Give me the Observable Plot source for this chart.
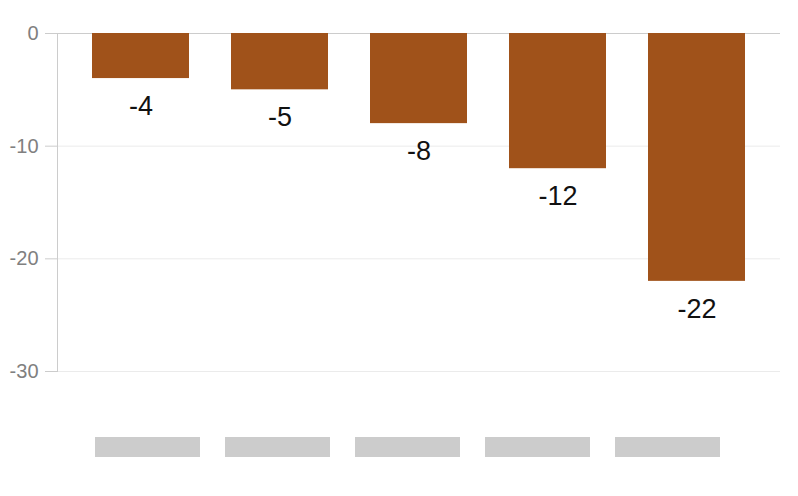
<!DOCTYPE html>
<html>
<head>
<meta charset="utf-8">
<script src="https://cdn.jsdelivr.net/npm/d3@7"></script>
<script src="https://cdn.jsdelivr.net/npm/@observablehq/plot@0.6"></script>
<style>
  html, body { margin: 0; padding: 0; background: #fff; }
  #chart svg { display: block; }
</style>
</head>
<body>
<div id="chart"></div>
<script>
// Categories (original labels are redacted in the reference)
const categories = ["c1", "c2", "c3", "c4", "c5"];
const values = [-4, -5, -8, -12, -22];
const yTicks = [0, -10, -20, -30];

const data = categories.map((c, i) => ({category: c, value: values[i]}));

const font = "'Liberation Sans', Arial, Helvetica, sans-serif";

const main = Plot.plot({
  width: 798,
  height: 400,
  marginTop: 33,
  marginBottom: 29,
  marginLeft: 57,
  marginRight: 18,
  style: {fontFamily: font, background: "#fff"},
  x: {domain: categories, paddingInner: 0.305, paddingOuter: 0.244, axis: null},
  y: {domain: [-30, 0], label: null},
  marks: [
    Plot.gridY(yTicks.filter(d => d !== 0), {stroke: "#ebebeb", strokeOpacity: 1}),
    Plot.ruleY([0], {stroke: "#cccccc"}),
    Plot.frame({anchor: "left", stroke: "#cccccc"}),
    Plot.axisY(yTicks, {
      tickSize: 12,
      tickPadding: 7,
      stroke: "#cccccc",
      fill: "#808080",
      fontSize: 20,
      tickFormat: d => String(d),
      label: null
    }),
    Plot.barY(data, {x: "category", y: "value", fill: "#a0521a"}),
    Plot.text(data, {
      x: "category",
      y: "value",
      text: d => String(d.value),
      dy: 28,
      fontSize: 27,
      fill: "#111",
      lineAnchor: "middle"
    })
  ]
});

// Redacted x-axis label placeholders (grey blocks)
const labelRow = Plot.plot({
  width: 798,
  height: 96,
  marginTop: 37,
  marginBottom: 39,
  marginLeft: 93,
  marginRight: 76,
  style: {background: "#fff"},
  x: {domain: categories, paddingInner: 0.19, paddingOuter: 0, axis: null},
  y: {domain: [0, 1], axis: null},
  marks: [
    Plot.barY(categories, {x: d => d, y1: 0, y2: 1, fill: "#cccccc"})
  ]
});

const el = document.getElementById("chart");
el.appendChild(main);
el.appendChild(labelRow);
</script>
</body>
</html>
